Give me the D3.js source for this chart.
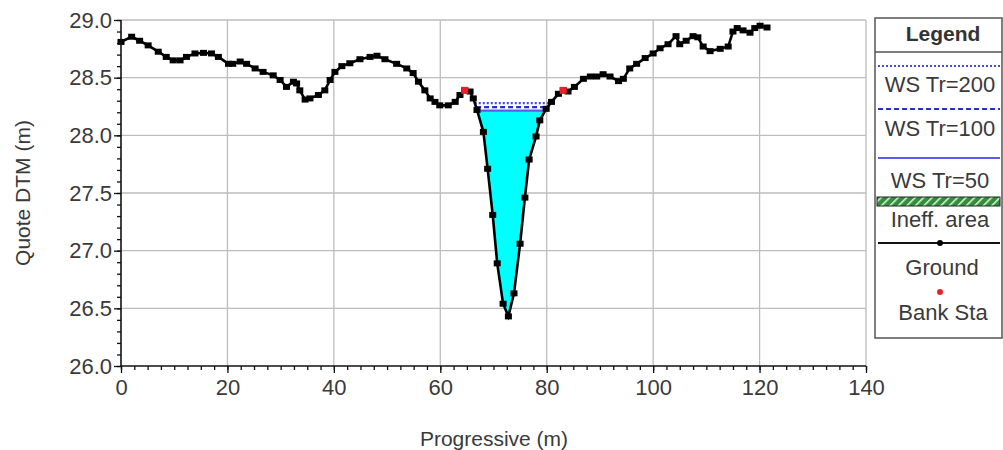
<!DOCTYPE html>
<html><head><meta charset="utf-8">
<script src="https://cdn.jsdelivr.net/npm/d3@7"></script>
<style>
html,body{margin:0;padding:0;background:#fff;}
text{font-family:"Liberation Sans",Arial,sans-serif;}
</style></head>
<body><svg id="c" width="1003" height="450"></svg>
<script>
const xTicks = [0,20,40,60,80,100,120,140];
const yTicks = [26.0,26.5,27.0,27.5,28.0,28.5,29.0];
const groundX = [0,2.0,3.5,5.1,7.0,8.5,9.8,11.1,12.3,13.9,15.5,17.0,18.3,20.2,21.0,22.4,23.6,25.2,26.7,28.6,29.9,31.1,32.4,33.0,33.6,34.6,35.5,37.1,38.3,39.3,40.2,41.5,43.0,44.9,46.8,48.1,49.6,51.8,53.7,54.9,55.9,57.1,58.1,59.0,59.9,61.5,62.8,63.7,64.6,65.6,66.2,66.9,68.1,68.9,69.85,70.7,71.8,72.8,73.85,75.0,75.9,76.7,78.0,78.7,79.9,80.9,82.2,83.1,84.0,85.2,86.9,88.2,89.4,90.6,91.9,93.5,94.4,95.6,96.9,98.5,100.0,101.3,102.8,104.3,105.0,106.2,107.5,108.4,109.4,110.7,112.6,114.1,115.0,115.8,116.9,118.2,119.1,120.1,121.4];
const groundY = [28.81,28.855,28.82,28.78,28.725,28.68,28.65,28.65,28.68,28.71,28.715,28.71,28.68,28.62,28.62,28.64,28.62,28.58,28.55,28.52,28.48,28.42,28.465,28.45,28.39,28.31,28.32,28.35,28.39,28.48,28.55,28.60,28.625,28.66,28.68,28.69,28.66,28.62,28.58,28.54,28.465,28.39,28.32,28.29,28.26,28.26,28.29,28.35,28.39,28.38,28.32,28.22,28.03,27.71,27.31,26.89,26.54,26.43,26.63,27.06,27.46,27.79,27.99,28.13,28.23,28.29,28.36,28.39,28.38,28.42,28.49,28.51,28.51,28.53,28.51,28.47,28.49,28.58,28.62,28.67,28.71,28.755,28.79,28.86,28.79,28.82,28.86,28.85,28.77,28.73,28.75,28.77,28.90,28.93,28.91,28.89,28.93,28.95,28.935];
const bankX = [64.6, 83.1];
const bankY = [28.39, 28.39];
const wsNames = ["WS Tr=200","WS Tr=100","WS Tr=50"];
const wsLevels = [28.28, 28.245, 28.215];

const svg = d3.select("#c");
const L=121,R=866,T=20,B=366;
const x = d3.scaleLinear().domain([0,140]).range([L,R]);
const y = d3.scaleLinear().domain([26,29]).range([B,T]);
const ground = groundX.map((v,i)=>({x:v,y:groundY[i]}));

// gridlines
const g = svg.append("g");
g.selectAll("line.gx").data(xTicks.slice(1)).join("line")
  .attr("x1",d=>x(d)).attr("x2",d=>x(d)).attr("y1",T).attr("y2",B)
  .attr("stroke","#bdbdbd").attr("stroke-width",1.3);
g.selectAll("line.gy").data(yTicks.slice(1)).join("line")
  .attr("x1",L).attr("x2",R).attr("y1",d=>y(d)).attr("y2",d=>y(d))
  .attr("stroke","#bdbdbd").attr("stroke-width",1.3);

// water fill (Tr=50)
function wetSection(level){
  let imin = d3.minIndex(ground,d=>d.y);
  let i=imin; while(i>0 && ground[i-1].y<level) i--;
  let j=imin; while(j<ground.length-1 && ground[j+1].y<level) j++;
  const a=ground[i-1], b=ground[i];
  const xl = a.x + (level-a.y)*(b.x-a.x)/(b.y-a.y);
  const c=ground[j], d=ground[j+1];
  const xr = c.x + (level-c.y)*(d.x-c.x)/(d.y-c.y);
  const pts=[{x:xl,y:level}].concat(ground.slice(i,j+1)).concat([{x:xr,y:level}]);
  return {xl,xr,pts};
}
const wet = wetSection(wsLevels[2]);
svg.append("path").attr("d", d3.line().x(d=>x(d.x)).y(d=>y(d.y))(wet.pts)+"Z")
  .attr("fill","#00ffff").attr("stroke","none");

// WS lines
const wsStyles = [
  {dash:"2,2", color:"#4a4ae0", w:2.2},
  {dash:"5,3", color:"#2a2ad8", w:2.2},
  {dash:null, color:"#5c5cf0", w:2.2}
];
wsLevels.forEach((lv,k)=>{
  const s = wetSection(lv);
  const ln = svg.append("line").attr("x1",x(s.xl)).attr("x2",x(s.xr))
    .attr("y1",y(lv)).attr("y2",y(lv)).attr("stroke",wsStyles[k].color)
    .attr("stroke-width",wsStyles[k].w);
  if(wsStyles[k].dash) ln.attr("stroke-dasharray",wsStyles[k].dash);
});

// ground line & markers
svg.append("path").datum(ground)
  .attr("d", d3.line().x(d=>x(d.x)).y(d=>y(d.y)))
  .attr("fill","none").attr("stroke","#000").attr("stroke-width",2.6);
svg.selectAll("rect.gm").data(ground).join("rect")
  .attr("x",d=>x(d.x)-3.5).attr("y",d=>y(d.y)-3).attr("width",7).attr("height",6)
  .attr("fill","#000");
svg.selectAll("rect.bm").data(bankX.map((v,i)=>({x:v,y:bankY[i]}))).join("rect")
  .attr("x",d=>x(d.x)-3.5).attr("y",d=>y(d.y)-3.5).attr("width",7).attr("height",7)
  .attr("fill","#e8202a");

// axes
const fmt = d3.format(".1f");
const yMinor = d3.range(26,29.001,0.1);
const xMinor = d3.range(0,140.001,2.5);
const ya = svg.append("g").attr("transform",`translate(${L},0)`)
  .call(d3.axisLeft(y).tickValues(yMinor).tickSize(4).tickFormat(""));
ya.select(".domain").remove();
const yb = svg.append("g").attr("transform",`translate(${L},0)`)
  .call(d3.axisLeft(y).tickValues(yTicks).tickSize(7).tickPadding(2).tickFormat(fmt));
const xa = svg.append("g").attr("transform",`translate(0,${B})`)
  .call(d3.axisBottom(x).tickValues(xMinor).tickSize(4).tickFormat(""));
xa.select(".domain").remove();
const xb = svg.append("g").attr("transform",`translate(0,${B})`)
  .call(d3.axisBottom(x).tickValues(xTicks).tickSize(7).tickPadding(6).tickFormat(d3.format("d")));
[ya,yb,xa,xb].forEach(a=>{
  a.selectAll("line").attr("stroke","#111").attr("stroke-width",1.3);
  a.selectAll("path.domain").attr("stroke","#111").attr("stroke-width",1.6);
  a.selectAll("text").attr("font-size",22).attr("fill","#3a3a3a")
    .attr("font-family","'Liberation Sans',Arial,sans-serif");
});
yb.selectAll(".domain").attr("d",`M0,${T}V${B}`);
xb.selectAll(".domain").attr("d",`M${L},0H${R}`);

// axis titles
svg.append("text").attr("x",494).attr("y",446).attr("text-anchor","middle")
  .attr("font-size",21).attr("fill","#3a3a3a").text("Progressive (m)");
svg.append("text").attr("transform","translate(30,193) rotate(-90)").attr("text-anchor","middle")
  .attr("font-size",21).attr("fill","#3a3a3a").text("Quote DTM (m)");

// legend
const defs = svg.append("defs");
const pat = defs.append("pattern").attr("id","hatch").attr("patternUnits","userSpaceOnUse")
  .attr("width",6).attr("height",6).attr("patternTransform","rotate(45)");
pat.append("rect").attr("width",6).attr("height",6).attr("fill","#2f8f3a");
pat.append("line").attr("x1",0).attr("y1",0).attr("x2",0).attr("y2",6)
  .attr("stroke","#e8f5e0").attr("stroke-width",3);

const lg = svg.append("g");
const LX0=875, LX1=1002, LC=940;
lg.append("rect").attr("x",LX0).attr("y",18).attr("width",LX1-LX0).attr("height",320)
  .attr("fill","#fff").attr("stroke","#555").attr("stroke-width",1.5);
lg.append("line").attr("x1",LX0).attr("x2",LX1).attr("y1",52).attr("y2",52)
  .attr("stroke","#555").attr("stroke-width",1.5);
lg.append("text").attr("x",LC+3).attr("y",41).attr("text-anchor","middle")
  .attr("font-size",21).attr("font-weight","bold").attr("fill","#333").text("Legend");
const wsLineY = [66, 109, 158];
const wsTextY = [92, 136, 188];
wsNames.forEach((n,k)=>{
  const ln = lg.append("line").attr("x1",878).attr("x2",1000)
    .attr("y1",wsLineY[k]).attr("y2",wsLineY[k])
    .attr("stroke",wsStyles[k].color).attr("stroke-width",2);
  if(wsStyles[k].dash) ln.attr("stroke-dasharray",wsStyles[k].dash);
  lg.append("text").attr("x",LC).attr("y",wsTextY[k]).attr("text-anchor","middle")
    .attr("font-size",22).attr("fill","#3a3a3a").text(n);
});
lg.append("rect").attr("x",877).attr("y",197).attr("width",123).attr("height",9)
  .attr("fill","url(#hatch)").attr("stroke","#222").attr("stroke-width",1);
lg.append("text").attr("x",LC).attr("y",227).attr("text-anchor","middle")
  .attr("font-size",22).attr("fill","#3a3a3a").text("Ineff. area");
lg.append("line").attr("x1",878).attr("x2",1000).attr("y1",243).attr("y2",243)
  .attr("stroke","#111").attr("stroke-width",2);
lg.append("circle").attr("cx",LC).attr("cy",243).attr("r",3).attr("fill","#000");
lg.append("text").attr("x",LC+2).attr("y",275).attr("text-anchor","middle")
  .attr("font-size",22).attr("fill","#3a3a3a").text("Ground");
lg.append("circle").attr("cx",LC).attr("cy",292).attr("r",3).attr("fill","#e8202a");
lg.append("text").attr("x",LC+3).attr("y",320).attr("text-anchor","middle")
  .attr("font-size",22).attr("fill","#3a3a3a").text("Bank Sta");
</script></body></html>
